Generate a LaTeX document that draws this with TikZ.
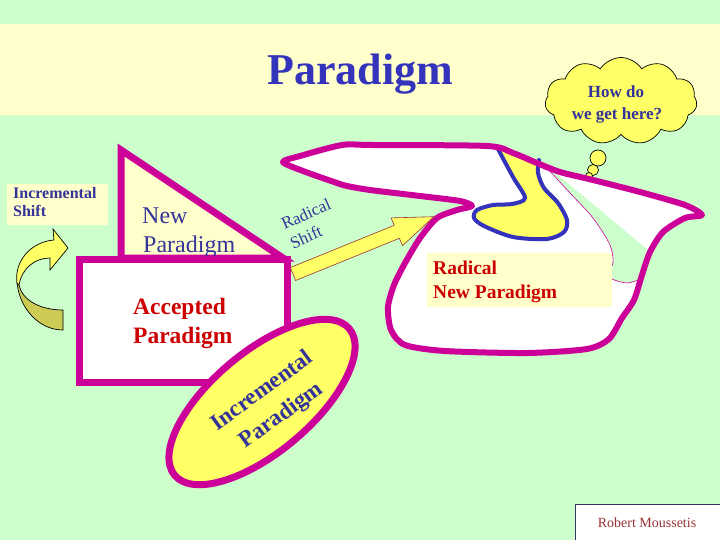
\documentclass[tikz,border=0pt]{standalone}
\usepackage{fontspec}
\setmainfont{Liberation Serif}
\usetikzlibrary{shapes.geometric,shapes.symbols}
\definecolor{bggreen}{HTML}{CCFFCC}
\definecolor{band}{HTML}{FFFFCC}
\definecolor{mag}{HTML}{CC0099}
\definecolor{titleblue}{HTML}{3333BB}
\definecolor{txtblue}{HTML}{333399}
\definecolor{txtred}{HTML}{CC0000}
\definecolor{brightyellow}{HTML}{FFFF66}
\definecolor{olive}{HTML}{CCCC55}
\definecolor{lineblue}{HTML}{3333BB}
\definecolor{signred}{HTML}{993333}
\definecolor{signframe}{HTML}{333366}
\newcommand{\radicalpath}{plot[smooth cycle, tension=0.45] coordinates {(283,162) (300,156) (342,145) (372,145) (487,146) (513,153) (537,163) (560,172) (593,180) (640,192) (685,205) (702,215) (685,218) (663,232) (650,252) (642,275) (634,300) (622,318) (609,339) (587,349) (527,353) (445,351) (405,345) (391,330) (388,307) (394,285) (405,263) (420,238) (437,218) (457,210) (472,206) (460,201) (420,196) (370,190) (347,186) (337,183) (303,171)}}
\begin{document}
\begin{tikzpicture}[x=1pt,y=-1pt,
  txt/.style={inner sep=0pt, anchor=base west},
  magborder/.style={draw=mag, line width=7pt},
  thinblack/.style={draw=black, line width=0.7pt}]
\useasboundingbox (0,0) rectangle (720,540);
\fill[bggreen] (0,0) rectangle (720,540);
\fill[band] (0,24) rectangle (720,115);
% title
\node[inner sep=0pt, anchor=base, text=titleblue, font=\fontsize{44}{50}\selectfont\bfseries] (title) at (360,85) {Paradigm};
% thought cloud
\node[cloud, cloud puffs=11, cloud puff arc=115, aspect=1.75, minimum width=152pt, minimum height=87pt, inner sep=0pt, thinblack, fill=brightyellow] (cloud) at (621,101) {};
\node[inner sep=0pt, anchor=base, text=txtblue, font=\fontsize{17}{20}\selectfont\bfseries] (how) at (616,98) {How do};
\node[inner sep=0pt, anchor=base, text=txtblue, font=\fontsize{17}{20}\selectfont\bfseries] (here) at (617,120) {we get here?};
\node[circle, thinblack, fill=brightyellow, minimum size=16pt, inner sep=0pt] (b1) at (598,158) {};
\node[circle, thinblack, fill=brightyellow, minimum size=11pt, inner sep=0pt] (b2) at (593,170) {};
\node[circle, thinblack, fill=brightyellow, minimum size=7pt, inner sep=0pt] (b3) at (589,176) {};
% radical new paradigm shape
\fill[white] \radicalpath;
\fill[brightyellow] plot[smooth, tension=0.5] coordinates {(498,149) (513,177) (525,198) (512,204) (493,205) (477,210) (474,218) (484,226) (513,237) (547,239) (564,232) (567,220) (558,203) (544,188) (538,173) (539,160)} -- cycle;
\fill[bggreen] plot[smooth, tension=0.5] coordinates {(547,168) (570,193) (593,218) (610,245) (613,263) (607,273) (612,279) (627,283) (641,279)} -- (648,250) -- (558,175) -- cycle;
\draw[mag, line width=0.6pt] plot[smooth, tension=0.5] coordinates {(547,168) (570,193) (593,218) (610,245) (613,263) (607,273) (612,279) (627,283) (641,279)};
\draw[lineblue, line width=4pt, line cap=round] plot[smooth, tension=0.5] coordinates {(498,149) (513,177) (525,198) (512,204) (493,205) (477,210) (474,218) (484,226) (513,237) (547,239) (564,232) (567,220) (558,203) (544,188) (538,173) (539,160)};
\draw[mag, line width=6pt, line join=round] \radicalpath;
\fill[band] (427,253) rectangle (612,307);
\node[txt, text=txtred, font=\fontsize{19.5}{23}\selectfont\bfseries] (rad1) at (433,274) {Radical};
\node[txt, text=txtred, font=\fontsize{19.5}{23}\selectfont\bfseries] (rad2) at (433,298) {New Paradigm};
% new paradigm triangle
\draw[magborder, fill=band, line join=miter] (121,150) -- (283,258) -- (121,258) -- cycle;
\node[txt, text=txtblue, font=\fontsize{24}{28}\selectfont] (new1) at (142,223) {New};
\node[txt, text=txtblue, font=\fontsize{24}{28}\selectfont] (new2) at (143,252) {Paradigm};
% accepted paradigm rectangle
\draw[magborder, fill=white] (79.5,259.5) rectangle (287.5,382.5);
\node[txt, text=txtred, font=\fontsize{23.5}{28}\selectfont\bfseries] (acc1) at (133,314) {Accepted};
\node[txt, text=txtred, font=\fontsize{23.5}{28}\selectfont\bfseries] (acc2) at (133,343) {Paradigm};
% incremental paradigm ellipse
\node[ellipse, magborder, fill=brightyellow, minimum width=228pt, minimum height=100pt, inner sep=0pt, rotate=40] (incr) at (262,402) {};
\node[inner sep=0pt, anchor=center, rotate=36, text=txtblue, font=\fontsize{23}{27}\selectfont\bfseries] (inc1) at (261,390) {Incremental};
\node[inner sep=0pt, anchor=center, rotate=36, text=txtblue, font=\fontsize{23}{27}\selectfont\bfseries] (inc2) at (282,416) {Paradigm};
% radical shift arrow
\draw[draw=signred, line width=0.6pt, fill=brightyellow, line join=miter] (295.6,280.5) -- (399.4,238.3) -- (402.5,245.7) -- (433.9,216.7) -- (391.1,217.9) -- (394.2,225.3) -- (290.4,267.5) -- cycle;
\node[inner sep=0pt, anchor=center, rotate=24, text=txtblue, font=\fontsize{17}{20}\selectfont] (rs1) at (306,214) {Radical};
\node[inner sep=0pt, anchor=center, rotate=24, text=txtblue, font=\fontsize{17}{20}\selectfont] (rs2) at (306,237) {Shift};
% incremental shift label and curved arrow
\fill[band] (7,184) rectangle (108,225);
\node[txt, text=txtblue, font=\fontsize{16}{19}\selectfont\bfseries] (is1) at (13,199) {Incremental};
\node[txt, text=txtblue, font=\fontsize{16}{19}\selectfont\bfseries] (is2) at (13,217) {Shift};
\draw[thinblack, fill=olive] (17,283) .. controls (20,310) and (40,330) .. (63,330) -- (63,310) .. controls (40,310) and (22,300) .. (19,285) -- cycle;
\draw[thinblack, fill=brightyellow, line join=miter] (17,283) .. controls (14,262) and (30,242) .. (54,240) -- (53,229) -- (68,248) -- (50,270) -- (50,258) .. controls (35,258) and (22,268) .. (19,285) -- cycle;
% signature box
\draw[draw=signframe, line width=1pt, fill=white] (575,504) rectangle (722,542);
\node[inner sep=0pt, anchor=base, text=signred, font=\fontsize{14}{17}\selectfont] (sig) at (647,527) {Robert Moussetis};
\end{tikzpicture}
\end{document}
